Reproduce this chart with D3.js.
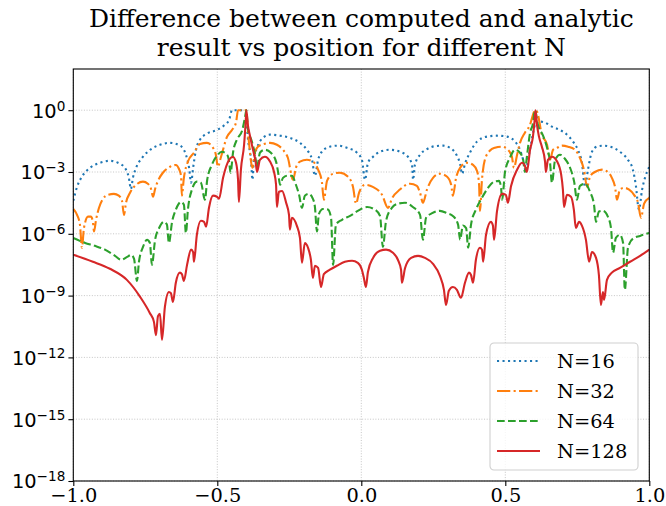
<!DOCTYPE html>
<html>
<head>
<meta charset="utf-8">
<script src="https://cdn.jsdelivr.net/npm/d3@7"></script>
<style>
  body { margin: 0; background: #fff; }
  svg { display: block; }
</style>
</head>
<body>
<svg id="chart"></svg>
<script>
const width = 666;
const height = 506;

// |computed - analytic|, pairs of [x, error]
const n16 = [[-1.000,4.0e-5],[-0.987,1.9e-4],[-0.970,5.9e-4],[-0.942,1.6e-3],[-0.907,2.8e-3],[-0.873,3.5e-3],[-0.845,2.8e-3],[-0.821,1.6e-3],[-0.807,5.2e-4],[-0.800,1.5e-4],[-0.793,5.2e-4],[-0.782,1.6e-3],[-0.761,4.9e-3],[-0.733,1.2e-2],[-0.699,2.1e-2],[-0.664,2.6e-2],[-0.629,1.9e-2],[-0.609,6.9e-3],[-0.598,1.6e-3],[-0.591,3.0e-4],[-0.584,1.6e-3],[-0.574,1.2e-2],[-0.560,3.7e-2],[-0.536,7.2e-2],[-0.501,0.11],[-0.477,0.18],[-0.459,0.34],[-0.449,1.0],[-0.401,1.0],[-0.394,4.6e-2],[-0.383,3.9e-3],[-0.378,4.2e-4],[-0.373,3.9e-3],[-0.362,1.5e-2],[-0.341,4.6e-2],[-0.317,6.5e-2],[-0.282,5.8e-2],[-0.248,4.6e-2],[-0.213,2.6e-2],[-0.189,1.2e-2],[-0.171,3.9e-3],[-0.161,6.6e-4],[-0.150,3.9e-3],[-0.137,9.6e-3],[-0.109,1.7e-2],[-0.081,1.9e-2],[-0.050,1.5e-2],[-0.015,8.6e-3],[0.002,3.9e-3],[0.013,4.2e-4],[0.023,2.8e-3],[0.041,5.5e-3],[0.065,9.6e-3],[0.100,1.2e-2],[0.134,9.6e-3],[0.162,5.5e-3],[0.176,2.2e-3],[0.180,4.2e-4],[0.186,2.2e-3],[0.204,6.9e-3],[0.228,1.3e-2],[0.256,1.8e-2],[0.284,1.9e-2],[0.308,1.5e-2],[0.332,6.2e-3],[0.343,2.5e-3],[0.350,8.2e-4],[0.360,2.5e-3],[0.377,8.6e-3],[0.402,3.0e-2],[0.436,5.2e-2],[0.471,5.8e-2],[0.506,5.2e-2],[0.534,3.0e-2],[0.551,1.2e-2],[0.562,3.9e-3],[0.572,1.0e-3],[0.579,3.9e-3],[0.589,2.1e-2],[0.600,0.14],[0.607,0.28],[0.620,0.28],[0.638,0.25],[0.662,0.16],[0.690,0.11],[0.714,6.5e-2],[0.735,3.0e-2],[0.752,1.2e-2],[0.766,2.8e-3],[0.777,1.9e-4],[0.787,1.3e-3],[0.801,9.6e-3],[0.818,1.7e-2],[0.839,1.9e-2],[0.863,1.7e-2],[0.898,9.6e-3],[0.926,3.9e-3],[0.943,1.3e-3],[0.953,2.4e-4],[0.964,1.5e-5],[0.975,1.4e-4],[0.985,5.2e-4],[1.000,1.8e-3]];

const n32 = [[-1.000,1.6e-5],[-0.987,8.3e-6],[-0.977,2.8e-6],[-0.970,2.1e-7],[-0.963,1.9e-6],[-0.949,6.8e-6],[-0.939,6.8e-6],[-0.932,3.8e-6],[-0.928,1.3e-6],[-0.921,4.8e-6],[-0.911,1.8e-5],[-0.897,5.0e-5],[-0.880,7.8e-5],[-0.859,8.7e-5],[-0.842,7.1e-5],[-0.831,4.0e-5],[-0.824,8.3e-6],[-0.817,3.2e-5],[-0.803,9.8e-5],[-0.782,2.4e-4],[-0.758,3.4e-4],[-0.741,2.7e-4],[-0.730,1.5e-4],[-0.723,6.3e-5],[-0.716,1.5e-4],[-0.706,3.7e-4],[-0.689,9.2e-4],[-0.664,1.8e-3],[-0.644,2.2e-3],[-0.633,1.4e-3],[-0.626,6.6e-4],[-0.623,7.1e-5],[-0.616,5.2e-4],[-0.602,3.2e-3],[-0.581,8.6e-3],[-0.560,2.3e-2],[-0.536,2.6e-2],[-0.515,1.5e-2],[-0.505,6.9e-3],[-0.498,1.8e-3],[-0.487,5.5e-3],[-0.466,5.2e-2],[-0.449,0.11],[-0.435,0.25],[-0.428,1.0],[-0.401,1.0],[-0.391,3.7e-2],[-0.378,1.6e-3],[-0.369,9.6e-3],[-0.359,1.7e-2],[-0.338,2.3e-2],[-0.317,2.6e-2],[-0.293,2.1e-2],[-0.272,1.2e-2],[-0.255,4.9e-3],[-0.237,4.2e-4],[-0.227,1.6e-3],[-0.213,3.2e-3],[-0.189,3.9e-3],[-0.168,3.2e-3],[-0.150,1.3e-3],[-0.137,3.4e-4],[-0.130,4.5e-5],[-0.119,3.7e-4],[-0.098,8.2e-4],[-0.074,9.2e-4],[-0.046,5.9e-4],[-0.029,1.9e-4],[-0.018,2.9e-5],[-0.008,9.8e-5],[0.013,2.4e-4],[0.040,1.9e-4],[0.072,7.8e-5],[0.093,1.8e-5],[0.106,5.0e-5],[0.134,1.4e-4],[0.169,2.7e-4],[0.193,2.1e-4],[0.204,9.8e-5],[0.214,3.2e-5],[0.228,1.4e-4],[0.249,5.2e-4],[0.273,8.2e-4],[0.298,5.9e-4],[0.312,2.4e-4],[0.318,7.1e-5],[0.329,5.2e-4],[0.343,1.6e-3],[0.367,2.8e-3],[0.388,2.2e-3],[0.402,1.1e-3],[0.409,2.4e-4],[0.412,1.3e-5],[0.419,4.2e-4],[0.429,3.9e-3],[0.447,1.1e-2],[0.464,1.5e-2],[0.489,1.7e-2],[0.509,1.2e-2],[0.523,5.5e-3],[0.530,1.6e-3],[0.541,6.9e-3],[0.551,2.6e-2],[0.568,8.1e-2],[0.586,0.20],[0.596,0.60],[0.603,1.0],[0.610,0.85],[0.627,6.5e-2],[0.645,2.1e-2],[0.655,3.9e-3],[0.666,1.2e-2],[0.680,1.5e-2],[0.697,1.9e-2],[0.718,1.7e-2],[0.742,1.2e-2],[0.759,4.9e-3],[0.773,1.3e-3],[0.784,1.9e-4],[0.794,5.9e-4],[0.811,1.0e-3],[0.836,1.3e-3],[0.856,1.0e-3],[0.870,5.2e-4],[0.881,1.9e-4],[0.888,4.5e-5],[0.898,1.4e-4],[0.912,1.7e-4],[0.930,1.4e-4],[0.947,7.8e-5],[0.961,3.2e-5],[0.971,6.0e-6],[0.982,2.9e-5],[1.000,5.6e-5]];

const n64 = [[-1.000,6.3e-7],[-0.959,3.6e-7],[-0.925,2.6e-7],[-0.890,1.7e-7],[-0.855,8.5e-8],[-0.834,5.5e-8],[-0.813,7.6e-8],[-0.799,9.5e-8],[-0.789,6.0e-8],[-0.779,5.2e-9],[-0.772,4.4e-8],[-0.758,2.3e-7],[-0.744,5.1e-7],[-0.734,3.6e-7],[-0.727,3.1e-8],[-0.716,5.1e-7],[-0.702,1.9e-6],[-0.685,3.8e-6],[-0.675,2.8e-6],[-0.668,3.6e-7],[-0.657,3.8e-6],[-0.643,1.6e-5],[-0.626,3.5e-5],[-0.616,2.6e-5],[-0.609,1.1e-6],[-0.602,1.5e-5],[-0.588,1.4e-4],[-0.571,3.4e-4],[-0.557,3.0e-4],[-0.543,4.5e-5],[-0.535,4.2e-4],[-0.519,2.2e-3],[-0.501,6.2e-3],[-0.484,9.6e-3],[-0.466,6.9e-3],[-0.459,3.2e-3],[-0.454,9.2e-4],[-0.445,9.6e-3],[-0.432,3.7e-2],[-0.414,0.10],[-0.404,0.43],[-0.399,1.0],[-0.394,0.14],[-0.380,3.0e-2],[-0.369,6.9e-3],[-0.362,1.6e-3],[-0.352,8.6e-3],[-0.335,1.2e-2],[-0.314,8.6e-3],[-0.296,3.2e-3],[-0.289,1.0e-3],[-0.282,2.4e-4],[-0.272,5.2e-4],[-0.258,6.6e-4],[-0.241,6.6e-4],[-0.227,2.4e-4],[-0.216,7.8e-5],[-0.206,1.8e-5],[-0.196,7.1e-5],[-0.182,8.7e-5],[-0.168,5.0e-5],[-0.161,2.0e-5],[-0.154,1.3e-6],[-0.147,9.3e-6],[-0.133,1.6e-5],[-0.116,1.5e-5],[-0.105,6.0e-6],[-0.098,3.1e-8],[-0.088,2.8e-6],[-0.067,4.8e-6],[-0.039,7.4e-6],[-0.012,1.3e-5],[0.020,2.0e-5],[0.047,1.5e-5],[0.065,7.4e-6],[0.075,2.3e-7],[0.086,4.3e-6],[0.106,1.8e-5],[0.127,2.9e-5],[0.152,3.2e-5],[0.179,2.0e-5],[0.204,8.3e-6],[0.214,5.1e-7],[0.225,6.0e-6],[0.246,1.0e-5],[0.273,1.3e-5],[0.298,1.0e-5],[0.318,7.4e-6],[0.336,2.8e-6],[0.343,5.1e-7],[0.353,2.5e-6],[0.364,1.9e-6],[0.371,2.1e-7],[0.381,2.8e-6],[0.398,1.5e-5],[0.419,5.6e-5],[0.440,1.7e-4],[0.461,3.4e-4],[0.478,3.7e-4],[0.485,1.9e-4],[0.489,4.5e-5],[0.499,1.0e-3],[0.516,4.9e-3],[0.534,1.2e-2],[0.551,8.6e-3],[0.562,3.9e-3],[0.568,1.0e-3],[0.575,5.5e-3],[0.586,8.1e-2],[0.596,0.22],[0.603,1.0],[0.613,0.20],[0.631,5.8e-2],[0.645,1.5e-2],[0.655,3.2e-3],[0.662,3.0e-4],[0.673,3.9e-3],[0.690,6.9e-3],[0.707,4.4e-3],[0.725,1.6e-3],[0.739,3.4e-4],[0.749,4.5e-5],[0.759,2.1e-4],[0.777,2.7e-4],[0.794,1.1e-4],[0.808,2.6e-5],[0.815,3.8e-6],[0.825,1.2e-5],[0.839,1.3e-5],[0.856,6.8e-6],[0.867,1.9e-6],[0.874,1.2e-7],[0.884,6.3e-7],[0.898,8.9e-7],[0.909,3.6e-7],[0.915,1.9e-9],[0.926,2.1e-7],[0.943,5.8e-7],[0.968,7.9e-7],[1.000,1.1e-6]];

const n128 = [[-1.000,9.5e-8],[-0.932,4.4e-8],[-0.873,2.0e-8],[-0.814,5.8e-9],[-0.768,8.7e-10],[-0.734,1.4e-10],[-0.720,5.3e-11],[-0.713,1.2e-11],[-0.706,1.0e-10],[-0.699,1.3e-10],[-0.692,7.1e-12],[-0.682,2.8e-10],[-0.668,1.5e-9],[-0.661,1.3e-9],[-0.654,4.9e-10],[-0.644,4.2e-9],[-0.630,1.3e-8],[-0.623,1.1e-8],[-0.616,5.2e-9],[-0.605,3.1e-8],[-0.591,1.7e-7],[-0.584,1.3e-7],[-0.581,4.4e-8],[-0.571,8.9e-7],[-0.557,4.3e-6],[-0.546,3.8e-6],[-0.539,2.2e-6],[-0.529,1.8e-5],[-0.515,7.1e-5],[-0.501,6.3e-5],[-0.494,5.0e-5],[-0.480,5.2e-4],[-0.459,3.9e-3],[-0.446,5.5e-3],[-0.435,2.8e-3],[-0.428,4.2e-4],[-0.425,3.5e-5],[-0.418,1.3e-3],[-0.407,2.1e-2],[-0.402,0.20],[-0.399,1.0],[-0.394,0.20],[-0.386,5.2e-2],[-0.376,1.2e-2],[-0.367,3.2e-3],[-0.362,1.0e-3],[-0.352,3.9e-3],[-0.335,5.5e-3],[-0.317,3.2e-3],[-0.303,1.0e-3],[-0.296,2.4e-4],[-0.293,2.0e-5],[-0.286,1.1e-4],[-0.275,1.2e-4],[-0.261,3.2e-5],[-0.251,8.3e-6],[-0.248,1.6e-6],[-0.241,6.0e-6],[-0.224,2.5e-6],[-0.213,6.3e-7],[-0.206,3.9e-8],[-0.196,3.6e-7],[-0.185,2.1e-7],[-0.175,5.5e-8],[-0.168,7.2e-9],[-0.161,2.8e-8],[-0.150,2.2e-8],[-0.140,2.6e-9],[-0.130,1.1e-8],[-0.109,1.8e-8],[-0.085,2.8e-8],[-0.057,4.4e-8],[-0.032,4.9e-8],[-0.012,3.9e-8],[0.002,1.8e-8],[0.009,7.2e-9],[0.016,2.6e-9],[0.023,1.4e-8],[0.041,6.8e-8],[0.065,1.5e-7],[0.086,1.7e-7],[0.110,1.2e-7],[0.127,5.5e-8],[0.138,1.8e-8],[0.141,4.2e-9],[0.152,2.2e-8],[0.173,6.8e-8],[0.197,8.5e-8],[0.221,6.8e-8],[0.249,3.5e-8],[0.273,9.1e-9],[0.287,1.9e-9],[0.294,3.5e-10],[0.304,1.7e-9],[0.318,2.6e-9],[0.332,1.9e-9],[0.346,7.8e-10],[0.360,4.2e-9],[0.374,1.3e-8],[0.381,1.0e-8],[0.388,4.2e-9],[0.398,5.5e-8],[0.412,2.1e-7],[0.419,1.7e-7],[0.423,4.4e-8],[0.433,8.9e-7],[0.450,3.8e-6],[0.457,2.5e-6],[0.461,5.1e-7],[0.471,1.2e-5],[0.489,8.7e-5],[0.502,7.8e-5],[0.509,3.2e-5],[0.520,2.1e-4],[0.541,1.3e-3],[0.558,2.8e-3],[0.568,2.0e-3],[0.575,1.0e-3],[0.586,1.2e-2],[0.596,5.2e-2],[0.602,0.35],[0.605,1.0],[0.610,0.20],[0.617,5.2e-2],[0.627,1.7e-2],[0.638,3.2e-3],[0.641,1.0e-3],[0.648,3.9e-3],[0.662,5.5e-3],[0.680,3.2e-3],[0.694,7.4e-4],[0.700,1.4e-4],[0.704,2.0e-5],[0.714,7.8e-5],[0.728,6.3e-5],[0.738,1.5e-5],[0.745,1.9e-6],[0.756,3.8e-6],[0.766,2.5e-6],[0.780,5.1e-7],[0.791,4.4e-8],[0.801,1.3e-7],[0.815,6.8e-8],[0.825,1.0e-8],[0.832,3.5e-10],[0.839,1.5e-9],[0.843,6.2e-10],[0.853,5.8e-9],[0.870,1.3e-8],[0.898,2.2e-8],[0.933,4.4e-8],[0.968,8.5e-8],[1.000,1.7e-7]];

const seriesLabels = ["N=16", "N=32", "N=64", "N=128"];
const xTicks = [-1, -0.5, 0, 0.5, 1];
const xTickLabels = ["\u22121.0", "\u22120.5", "0.0", "0.5", "1.0"];
const yTicks = [1e-18, 1e-15, 1e-12, 1e-9, 1e-6, 1e-3, 1];
const yTickExps = ["\u221218", "\u221215", "\u221212", "\u22129", "\u22126", "\u22123", "0"];

// line styles (matplotlib tab10 + ':' '-.' '--' '-')
const colors = ["#1f77b4", "#ff7f0e", "#2ca02c", "#d62728"];
const dashes = ["2.1,3.4", "13.3,3.3,2.1,3.3", "7.7,3.3", null];

const svg = d3.select("#chart")
    .attr("width", width)
    .attr("height", height);

const plot = {left: 73.3, right: 649.3, top: 69, bottom: 481};

const x = d3.scaleLinear().domain([-1, 1]).range([plot.left, plot.right]);
const y = d3.scaleLog().domain([1e-18, 1e2]).range([plot.bottom, plot.top]);

// title
svg.append("g")
    .attr("font-family", "DejaVu Serif")
    .attr("font-size", "25px")
    .attr("text-anchor", "middle")
  .selectAll("text")
  .data(["Difference between computed and analytic", "result vs position for different N"])
  .join("text")
    .attr("x", (plot.left + plot.right) / 2)
    .attr("y", (d, i) => 27 + i * 29)
    .text(d => d);

// dotted grid
const grid = svg.append("g")
    .attr("stroke", "#b8b8b8")
    .attr("stroke-width", 0.8)
    .attr("stroke-dasharray", "1,1.65");
grid.selectAll("line.gx")
  .data(xTicks)
  .join("line")
    .attr("class", "gx")
    .attr("x1", d => x(d)).attr("x2", d => x(d))
    .attr("y1", plot.top).attr("y2", plot.bottom);
grid.selectAll("line.gy")
  .data(yTicks)
  .join("line")
    .attr("class", "gy")
    .attr("x1", plot.left).attr("x2", plot.right)
    .attr("y1", d => y(d)).attr("y2", d => y(d));

// curves
svg.append("clipPath").attr("id", "clip")
  .append("rect")
    .attr("x", plot.left).attr("y", plot.top)
    .attr("width", plot.right - plot.left)
    .attr("height", plot.bottom - plot.top);

const line = d3.line()
    .x(d => x(d[0]))
    .y(d => y(d[1]))
    .curve(d3.curveMonotoneX);

svg.append("g")
    .attr("clip-path", "url(#clip)")
  .selectAll("path")
  .data([n16, n32, n64, n128])
  .join("path")
    .attr("d", line)
    .attr("fill", "none")
    .attr("stroke", (d, i) => colors[i])
    .attr("stroke-width", 2.1)
    .attr("stroke-linejoin", "round")
    .attr("stroke-dasharray", (d, i) => dashes[i]);

// axes
const xAxis = svg.append("g")
    .attr("transform", `translate(0,${plot.bottom})`)
    .call(d3.axisBottom(x).tickValues(xTicks).tickSize(4.9).tickPadding(2)
      .tickFormat((d, i) => xTickLabels[i]));
xAxis.select(".domain").remove();
xAxis.selectAll("line").attr("stroke-width", 1.1);
xAxis.selectAll("text")
    .attr("font-family", "DejaVu Serif")
    .attr("font-size", "19.4px")
    .attr("fill", "#000");

const yAxis = svg.append("g")
    .attr("transform", `translate(${plot.left},0)`)
    .call(d3.axisLeft(y).tickValues(yTicks).tickSize(4.9).tickFormat(""));
yAxis.select(".domain").remove();
yAxis.selectAll("line").attr("stroke-width", 1.1);
yAxis.selectAll(".tick text")
    .attr("x", -8)
    .attr("dy", "0.36em")
    .attr("font-family", "DejaVu Sans")
    .attr("font-size", "19.4px")
    .attr("fill", "#000")
    .each(function(d, i) {
      const t = d3.select(this);
      t.append("tspan").text("10");
      t.append("tspan")
        .attr("font-size", "13.6px")
        .attr("dy", "-0.52em")
        .text(yTickExps[i]);
    });

// frame
svg.append("rect")
    .attr("x", plot.left).attr("y", plot.top)
    .attr("width", plot.right - plot.left)
    .attr("height", plot.bottom - plot.top)
    .attr("fill", "none")
    .attr("stroke", "#000")
    .attr("stroke-width", 1.1);

// legend
const legend = svg.append("g").attr("transform", "translate(490,343)");
legend.append("rect")
    .attr("width", 148).attr("height", 127)
    .attr("rx", 4)
    .attr("fill", "#fff").attr("fill-opacity", 0.8)
    .attr("stroke", "#d0d0d0").attr("stroke-width", 1.1);
const entry = legend.selectAll("g.entry")
  .data(seriesLabels)
  .join("g")
    .attr("class", "entry")
    .attr("transform", (d, i) => `translate(0,${18 + i * 30})`);
entry.append("line")
    .attr("x1", 7).attr("x2", 50)
    .attr("stroke", (d, i) => colors[i])
    .attr("stroke-width", 2.1)
    .attr("stroke-dasharray", (d, i) => dashes[i]);
entry.append("text")
    .attr("x", 67).attr("y", 7)
    .attr("font-family", "DejaVu Serif")
    .attr("font-size", "19.4px")
    .text(d => d);
</script>
</body>
</html>
